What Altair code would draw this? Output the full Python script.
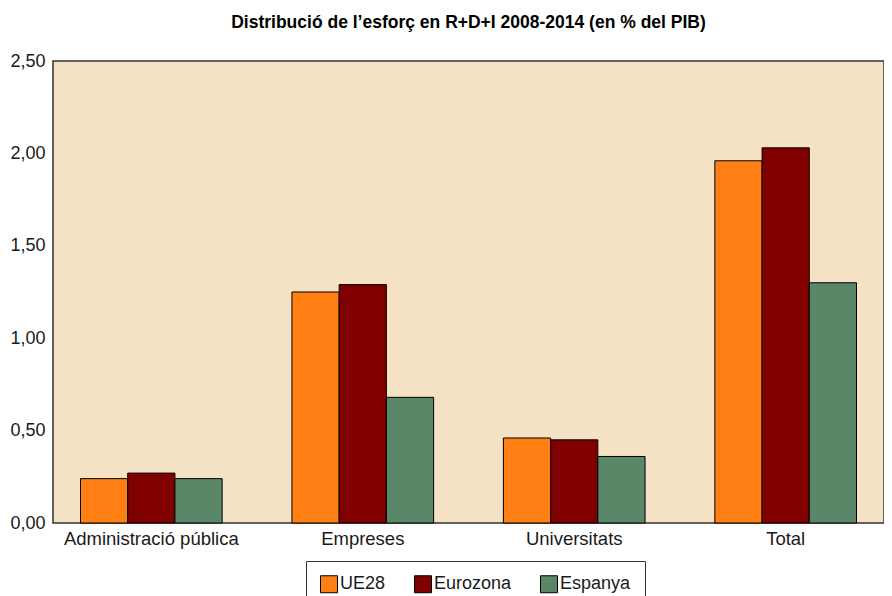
import altair as alt
import pandas as pd

categories = ["Administració pública", "Empreses", "Universitats", "Total"]
series = ["UE28", "Eurozona", "Espanya"]
ue28 = [0.24, 1.25, 0.46, 1.96]
eurozona = [0.27, 1.29, 0.45, 2.03]
espanya = [0.24, 0.68, 0.36, 1.30]
colors = ["#FF7F14", "#800000", "#5A8768"]
y_ticks = [0, 0.5, 1.0, 1.5, 2.0, 2.5]

rows = []
for s, vals in zip(series, [ue28, eurozona, espanya]):
    for c, v in zip(categories, vals):
        rows.append({"Categoria": c, "Serie": s, "Valor": v})
df = pd.DataFrame(rows)

FONT = "Liberation Sans"

chart = alt.Chart(df).mark_bar(stroke="black", strokeWidth=1).encode(
    x=alt.X("Categoria:N", sort=categories,
            scale=alt.Scale(paddingInner=0.33, paddingOuter=0.13),
            axis=alt.Axis(title=None, labelAngle=0, labelFontSize=18.5, labelFont=FONT,
                          labelColor="#1a1a1a", ticks=False, domain=False, labelPadding=6)),
    xOffset=alt.XOffset("Serie:N", sort=series, scale=alt.Scale(paddingInner=0, paddingOuter=0)),
    y=alt.Y("Valor:Q", scale=alt.Scale(domain=[0, 2.5], nice=False),
            axis=alt.Axis(values=y_ticks, labelExpr="replace(format(datum.value,'.2f'),'.',',')",
                          grid=False, ticks=False, domain=False, title=None,
                          labelFontSize=18, labelFont=FONT, labelColor="#1a1a1a", labelPadding=8)),
    color=alt.Color("Serie:N", sort=series,
                    scale=alt.Scale(domain=series, range=colors),
                    legend=alt.Legend(orient="none", legendX=253, legendY=500, direction="horizontal",
                                      title=None, symbolType="square", symbolSize=289,
                                      symbolStrokeColor="black", symbolStrokeWidth=1,
                                      labelFontSize=18, labelFont=FONT, labelColor="#1a1a1a",
                                      strokeColor="#333333", fillColor="white", padding=14,
                                      columnPadding=26, labelOffset=2)),
).properties(
    width=831, height=462,
    padding={"left": 1, "top": 5, "right": 0, "bottom": 0},
    title=alt.Title("Distribució de l’esforç en R+D+I 2008-2014 (en % del PIB)",
                    fontSize=17.5, font=FONT, fontWeight="bold", anchor="middle",
                    offset=21, color="#000000"),
).configure_view(
    fill="#F5E1C3", stroke="#333333", strokeWidth=1.5
)

chart.save("out.html", embed_options={"renderer": "svg", "actions": False})
